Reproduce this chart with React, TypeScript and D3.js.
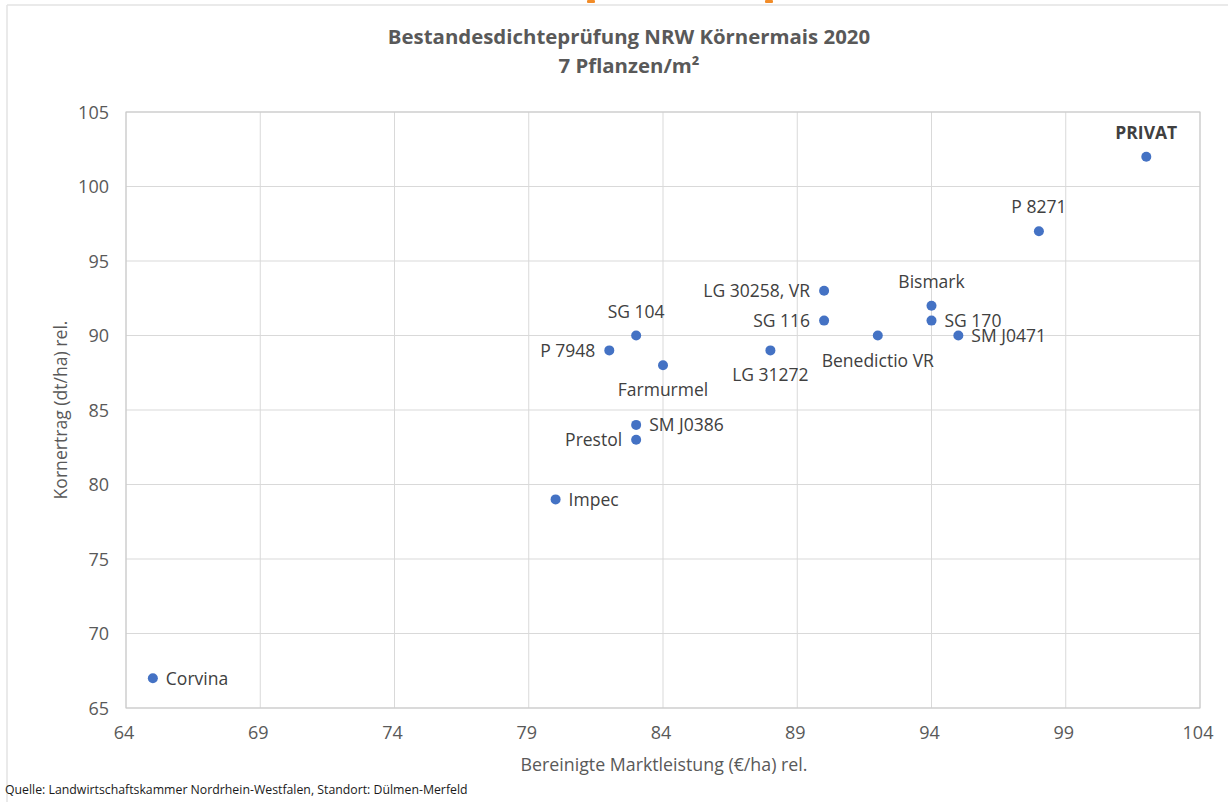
import React from "react";
import * as d3 from "d3";

const names = ["PRIVAT", "P 8271", "Bismark", "SG 170", "SM J0471", "Benedictio VR", "LG 30258, VR", "SG 116", "LG 31272", "SG 104", "P 7948", "Farmurmel", "SM J0386", "Prestol", "Impec", "Corvina"];
const xValues = [102, 98, 94, 94, 95, 92, 90, 90, 88, 83, 82, 84, 83, 83, 80, 65];
const yValues = [102, 97, 92, 91, 90, 90, 93, 91, 89, 90, 89, 88, 84, 83, 79, 67];
const labelPos = ["top", "top", "top", "right", "right", "bottom", "left", "left", "bottom", "top", "left", "bottom", "right", "left", "right", "right"];
const xTicks = [64, 69, 74, 79, 84, 89, 94, 99, 104];
const yTicks = [65, 70, 75, 80, 85, 90, 95, 100, 105];

const W = 1228;
const H = 802;
const FONT = "'Open Sans', sans-serif";

export default function App() {
  const left = 126, right = 1200, top = 112, bottom = 708;
  const x = d3.scaleLinear().domain([64, 104]).range([left, right]);
  const y = d3.scaleLinear().domain([65, 105]).range([bottom, top]);

  return (
    <svg width={W} height={H} style={{ position: "absolute", left: 0, top: 0, background: "#fff" }}>
      <rect x={0} y={0} width={W} height={H} fill="#fff" />
      <line x1={7} y1={5} x2={W} y2={5} stroke="#e3e3e3" strokeWidth={1.5} />
      <line x1={7} y1={5} x2={7} y2={H} stroke="#e3e3e3" strokeWidth={1.5} />
      <rect x={587} y={0} width={8} height={3} fill="#f28c28" rx={1} />
      <rect x={765} y={0} width={8} height={3} fill="#f28c28" rx={1} />

      <text x={629} y={44} textAnchor="middle" fontFamily={FONT} fontWeight="bold" fontSize={20.4} fill="#595959">Bestandesdichteprüfung NRW Körnermais 2020</text>
      <text x={629} y={73} textAnchor="middle" fontFamily={FONT} fontWeight="bold" fontSize={20.4} fill="#595959">7 Pflanzen/m²</text>

      {xTicks.map((t) => (
        <line key={"gx" + t} x1={x(t)} x2={x(t)} y1={top} y2={bottom} stroke="#d9d9d9" strokeWidth={1} />
      ))}
      {yTicks.map((t) => (
        <line key={"gy" + t} x1={left} x2={right} y1={y(t)} y2={y(t)} stroke="#d9d9d9" strokeWidth={1} />
      ))}
      <rect x={left} y={top} width={right - left} height={bottom - top} fill="none" stroke="#c8c8c8" strokeWidth={1} />

      {xTicks.map((t) => (
        <text key={"tx" + t} x={x(t) - 2} y={bottom + 31} textAnchor="middle" fontFamily={FONT} fontSize={18} fill="#595959">{t}</text>
      ))}
      {yTicks.map((t) => (
        <text key={"ty" + t} x={left - 17} y={y(t) + 6.5} textAnchor="end" fontFamily={FONT} fontSize={18} fill="#595959">{t}</text>
      ))}

      <text x={664} y={771} textAnchor="middle" fontFamily={FONT} fontSize={17.8} fill="#595959">Bereinigte Marktleistung (€/ha) rel.</text>
      <text transform={`translate(67, ${(top + bottom) / 2}) rotate(-90)`} textAnchor="middle" fontFamily={FONT} fontSize={17.6} fill="#595959">Kornertrag (dt/ha) rel.</text>

      {names.map((n, i) => {
        const cx = x(xValues[i]);
        const cy = y(yValues[i]);
        const p = labelPos[i];
        let tx = cx, ty = cy + 6.5, anchor = "middle";
        if (p === "top") { ty = cy - 18; }
        if (p === "bottom") { ty = cy + 31; }
        if (p === "left") { tx = cx - 14; anchor = "end"; }
        if (p === "right") { tx = cx + 13; anchor = "start"; }
        return (
          <g key={n}>
            <circle cx={cx} cy={cy} r={5} fill="#4472c4" />
            <text x={tx} y={ty} textAnchor={anchor} fontFamily={FONT} fontSize={17.5} fontWeight={n === "PRIVAT" ? "bold" : "normal"} fill="#404040">{n}</text>
          </g>
        );
      })}

      <text x={5} y={794} fontFamily={FONT} fontSize={12.3} fill="#1a1a1a">Quelle: Landwirtschaftskammer Nordrhein-Westfalen, Standort: Dülmen-Merfeld</text>
    </svg>
  );
}
